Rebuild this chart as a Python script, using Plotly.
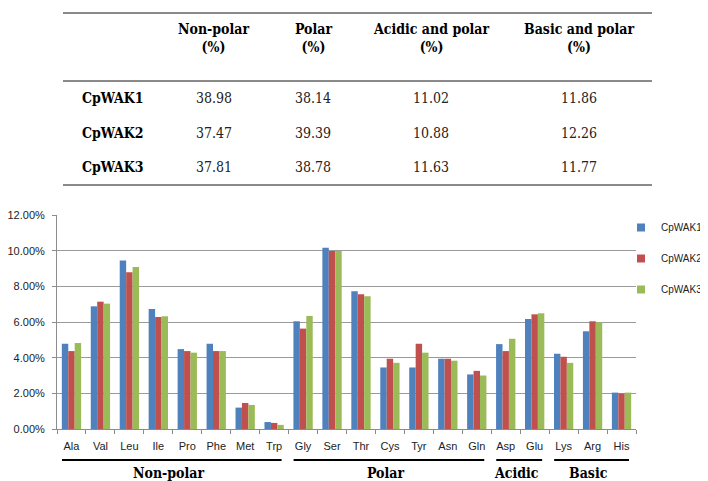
import plotly.graph_objects as go

# The page body has an 8px margin, so the figure is drawn at (8, 8) in the window.
OFF = 8
WIN_W, WIN_H = 708, 481
W, H = WIN_W - OFF, WIN_H - OFF

# ---- data ----
amino_acids = ["Ala", "Val", "Leu", "Ile", "Pro", "Phe", "Met", "Trp",
               "Gly", "Ser", "Thr", "Cys", "Tyr", "Asn", "Gln",
               "Asp", "Glu", "Lys", "Arg", "His"]
cpwak1 = [4.78, 6.88, 9.45, 6.73, 4.48, 4.78, 1.20, 0.39,
          6.04, 10.16, 7.73, 3.45, 3.45, 3.94, 3.06,
          4.76, 6.17, 4.22, 5.48, 2.04]
cpwak2 = [4.37, 7.14, 8.79, 6.28, 4.37, 4.37, 1.46, 0.34,
          5.63, 9.98, 7.56, 3.94, 4.78, 3.94, 3.26,
          4.37, 6.43, 4.05, 6.04, 1.99]
cpwak3 = [4.82, 7.03, 9.09, 6.32, 4.28, 4.37, 1.35, 0.23,
          6.34, 9.98, 7.44, 3.71, 4.28, 3.83, 3.00,
          5.06, 6.49, 3.71, 5.98, 2.04]
series_names = ["CpWAK1", "CpWAK2", "CpWAK3"]
series_colors = ["#4F81BD", "#C0504D", "#9BBB59"]

y_ticks = [0, 2, 4, 6, 8, 10, 12]
y_tick_labels = ["0.00%", "2.00%", "4.00%", "6.00%", "8.00%", "10.00%", "12.00%"]

groups = ["Non-polar", "Polar", "Acidic", "Basic"]
group_first = ["Ala", "Gly", "Asp", "Lys"]
group_last = ["Trp", "Gln", "Glu", "His"]

table_headers = ["Non-polar<br>(%)", "Polar<br>(%)", "Acidic and polar<br>(%)", "Basic and polar<br>(%)"]
table_rows = ["CpWAK1", "CpWAK2", "CpWAK3"]
tbl_nonpolar = ["38.98", "37.47", "37.81"]
tbl_polar = ["38.14", "39.39", "38.78"]
tbl_acidic = ["11.02", "10.88", "11.63"]
tbl_basic = ["11.86", "12.26", "11.77"]

# ---- layout geometry (window pixels -> paper fractions) ----
px = lambda x: (x - OFF) / W
py = lambda y: 1 - (y - OFF) / H

plot_l, plot_r = 57, 636
plot_t, plot_b = 215, 429

SERIF = "DejaVu Serif Condensed, DejaVu Serif, serif"
SANS = "Liberation Sans"

fig = go.Figure()
for name, vals, col in zip(series_names, [cpwak1, cpwak2, cpwak3], series_colors):
    fig.add_trace(go.Bar(x=amino_acids, y=vals, name=name, marker_color=col,
                         marker_line_width=0, showlegend=False))
    fig.add_trace(go.Scatter(x=[None], y=[None], mode="markers", name=name,
                             legendgroup=name,
                             marker=dict(symbol="square", size=8, color=col)))

fig.update_layout(
    width=W, height=H,
    margin=dict(l=0, r=0, t=0, b=0, autoexpand=False),
    paper_bgcolor="white", plot_bgcolor="white",
    barmode="group", bargap=0.333, bargroupgap=0,
    font=dict(family=SANS, size=11, color="#222222"),
    legend=dict(x=1, y=py(213), xanchor="right", yanchor="top",
                font=dict(family=SANS, size=10, color="#222222"),
                tracegroupgap=12, itemwidth=30, bgcolor="rgba(0,0,0,0)"),
    xaxis=dict(domain=[px(plot_l), px(plot_r)], type="category",
               showline=True, linecolor="#8c8c8c", linewidth=1,
               ticks="outside", tickson="boundaries", ticklen=4, tickcolor="#8c8c8c",
               showgrid=False, tickangle=0, ticklabelstandoff=7, tickfont=dict(size=11)),
    yaxis=dict(domain=[py(plot_b), py(plot_t)], range=[0, 12],
               tickmode="array", tickvals=y_ticks, ticktext=y_tick_labels,
               showline=True, linecolor="#8c8c8c", linewidth=1,
               ticks="outside", ticklen=4, tickcolor="#8c8c8c",
               ticklabelstandoff=5,
               showgrid=True, gridcolor="#9a9a9a", gridwidth=1,
               zeroline=False, tickfont=dict(size=11)),
)

shapes = []
ann = []

# ---- table ----
for yline in [13, 81, 185]:
    shapes.append(dict(type="line", xref="paper", yref="paper",
                       x0=px(63), x1=px(652), y0=py(yline), y1=py(yline),
                       line=dict(color="#8a8a8a", width=2)))
col_x = [214, 313, 431, 579]
for cx, htxt in zip(col_x, table_headers):
    ann.append(dict(xref="paper", yref="paper", x=px(cx), y=py(38), text="<b>" + htxt + "</b>",
                    showarrow=False, xanchor="center", yanchor="middle",
                    font=dict(family=SERIF, size=14, color="black")))
row_y = [98, 133, 167]
for ry, rname, a, b, c, d in zip(row_y, table_rows, tbl_nonpolar, tbl_polar, tbl_acidic, tbl_basic):
    ann.append(dict(xref="paper", yref="paper", x=px(80), y=py(ry), text="<b>" + rname + "</b>",
                    showarrow=False, xanchor="left", yanchor="middle",
                    font=dict(family=SERIF, size=14, color="black")))
    for cx, v in zip(col_x, [a, b, c, d]):
        ann.append(dict(xref="paper", yref="paper", x=px(cx), y=py(ry), text=v,
                        showarrow=False, xanchor="center", yanchor="middle",
                        font=dict(family=SERIF, size=14, color="#222222")))

# ---- group brackets under the x axis ----
ncat = len(amino_acids)
catw = (plot_r - plot_l) / ncat
for g, f, l in zip(groups, group_first, group_last):
    i0 = amino_acids.index(f)
    i1 = amino_acids.index(l)
    x0 = plot_l + i0 * catw + 5
    x1 = plot_l + (i1 + 1) * catw - 7
    shapes.append(dict(type="line", xref="paper", yref="paper",
                       x0=px(x0), x1=px(x1), y0=py(460), y1=py(460),
                       line=dict(color="black", width=2)))
    ann.append(dict(xref="paper", yref="paper", x=px((x0 + x1) / 2 - 3), y=py(473),
                    text="<b>" + g + "</b>", showarrow=False,
                    xanchor="center", yanchor="middle",
                    font=dict(family=SERIF, size=14, color="black")))

fig.update_layout(shapes=shapes, annotations=ann)
fig.write_html("out.html")
